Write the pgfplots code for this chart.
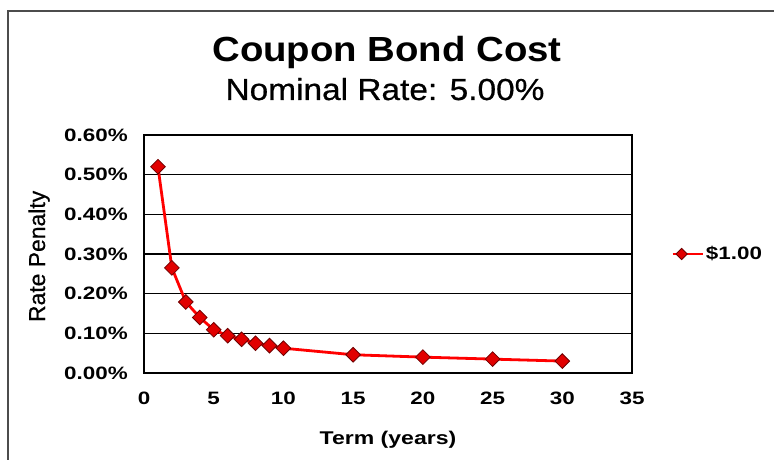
\documentclass[border=0pt]{standalone}
\usepackage{fontspec}
\setmainfont[FakeStretch=1.25]{Liberation Sans}
\newfontfamily\plainsans[FakeBold=0.6]{Liberation Sans}
\newfontfamily\titlesans[FakeStretch=1.1]{Liberation Sans}
\newfontfamily\subtitlesans[FakeStretch=1.1,FakeBold=0.6]{Liberation Sans}
\usepackage{pgfplots}
\pgfplotsset{compat=1.18}
\definecolor{markedge}{RGB}{110,0,0}
\definecolor{markfill}{RGB}{225,0,0}
\begin{document}
\begin{tikzpicture}[x=1bp,y=1bp]
\path[use as bounding box] (-144,-87) rectangle (630,373);
\draw[line width=1.5bp, black!70] (-136,-90) -- (-136,362) -- (640,362);
\node[font=\titlesans\bfseries\fontsize{35}{35}\selectfont, anchor=base] at (243,311) {Coupon Bond Cost};
\node[font=\subtitlesans\fontsize{30.5}{30.5}\selectfont, anchor=base] at (241,273) {Nominal Rate: 5.00\%};
\begin{axis}[
  at={(0,0)}, anchor=south west,
  width=488bp, height=238bp, scale only axis,
  xmin=0, xmax=35, ymin=0, ymax=0.6,
  xtick={0,5,10,15,20,25,30,35},
  xticklabels={0,5,10,15,20,25,30,35},
  ytick={0,0.1,0.2,0.3,0.4,0.5,0.6},
  yticklabels={0.00\%,0.10\%,0.20\%,0.30\%,0.40\%,0.50\%,0.60\%},
  major tick length=0pt,
  tick label style={font=\bfseries\fontsize{18}{18}\selectfont, inner sep=0pt},
  yticklabel style={anchor=east, xshift=-16bp},
  xticklabel style={anchor=north, yshift=-19bp},
  ymajorgrids,
  grid style={black, line width=1.2bp},
  axis line style={black, line width=1.6bp},
  xlabel={Term (years)},
  xlabel style={font=\bfseries\fontsize{18.5}{18.5}\selectfont, at={(axis description cs:0.5,-0.282)}, anchor=center},
  ylabel={Rate Penalty},
  ylabel style={font=\plainsans\fontsize{23}{23}\selectfont, at={(axis description cs:-0.215,0.49)}, anchor=center},
  legend style={at={(1,0.5)}, anchor=west, xshift=36bp, draw=none, fill=none,
    font=\bfseries\fontsize{18}{18}\selectfont},
  legend cell align=left,
  legend image code/.code={\path (0bp,0bp) -- (30bp,0bp);\draw[#1, line width=1.5bp, mark size=4bp, mark repeat=2, mark phase=2] plot coordinates {(2bp,0bp) (9bp,0bp) (16bp,0bp)};},
]
\addplot[color=red, line width=2.8bp, mark=square*, mark size=5.2bp,
  mark options={rotate=45, fill=markfill, draw=markedge, line width=0.8bp}]
  coordinates {
  (1,0.520) (2,0.265) (3,0.179) (4,0.140) (5,0.109) (6,0.094) (7,0.085)
  (8,0.075) (9,0.069) (10,0.0625) (15,0.046) (20,0.040) (25,0.035) (30,0.030)
  };
\addlegendentry{\$1.00}
\end{axis}
\end{tikzpicture}
\end{document}
